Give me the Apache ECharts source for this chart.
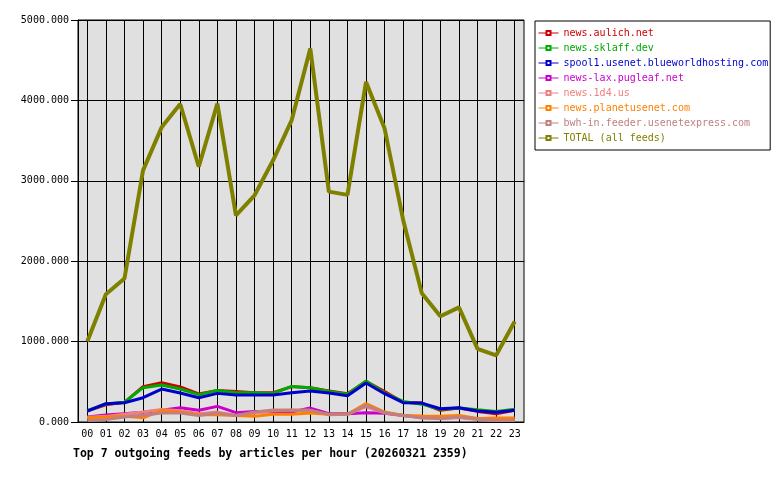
<!DOCTYPE html>
<html>
<head>
<meta charset="utf-8">
<script src="https://cdn.jsdelivr.net/npm/echarts@6/dist/echarts.min.js"></script>
<style>
  html, body { margin: 0; padding: 0; background: #fff; }
  #chart { width: 780px; height: 480px; }
</style>
</head>
<body>
<div id="chart"></div>
<script>
const hours = ['00','01','02','03','04','05','06','07','08','09','10','11',
               '12','13','14','15','16','17','18','19','20','21','22','23'];

const feedNames = ['news.aulich.net', 'news.sklaff.dev', 'spool1.usenet.blueworldhosting.com',
  'news-lax.pugleaf.net', 'news.1d4.us', 'news.planetusenet.com',
  'bwh-in.feeder.usenetexpress.com', 'TOTAL (all feeds)'];
const feedColors = ['#cc0000', '#00aa00', '#0000cc', '#cc00cc', '#f08080', '#ff8000', '#c08080', '#808000'];

const aulich = [140, 215, 245, 440, 490, 435, 350, 393, 380, 365, 365, 440, 425, 385, 352, 505, 380, 245, 235, 145, 175, 132, 103, 145];
const sklaff = [140, 225, 245, 427, 460, 410, 340, 393, 365, 365, 355, 443, 427, 380, 345, 509, 360, 256, 222, 158, 175, 153, 132, 160];
const spool1 = [136, 228, 240, 302, 410, 360, 302, 356, 335, 335, 335, 365, 385, 360, 327, 485, 352, 240, 235, 165, 178, 136, 120, 145];
const pugleaf = [61, 86, 103, 120, 145, 178, 145, 194, 116, 132, 124, 125, 173, 103, 103, 116, 110, 80, 60, 50, 60, 40, 25, 25];
const d4 = [60, 70, 95, 125, 155, 140, 103, 123, 82, 110, 140, 150, 145, 90, 95, 190, 115, 80, 50, 40, 55, 30, 20, 20];
const planet = [53, 61, 70, 53, 145, 124, 90, 90, 80, 70, 95, 95, 111, 95, 95, 228, 124, 82, 75, 70, 82, 45, 50, 50];
const bwh = [20, 30, 61, 85, 111, 111, 82, 111, 82, 124, 149, 145, 145, 95, 95, 207, 116, 82, 53, 45, 61, 36, 20, 20];
const total = [1000, 1590, 1785, 3130, 3665, 3955, 3175, 3960, 2570, 2820, 3255, 3755, 4645, 2865, 2825, 4230, 3650, 2510, 1600, 1315, 1425, 910, 830, 1250];

const feedData = [aulich, sklaff, spool1, pugleaf, d4, planet, bwh, total];

const mono = 'DejaVu Sans Mono';
const chart = echarts.init(document.getElementById('chart'));

chart.setOption({
  animation: false,
  backgroundColor: '#fff',
  title: {
    text: 'Top 7 outgoing feeds by articles per hour (20260321 2359)',
    left: 68,
    top: 443,
    textStyle: { fontFamily: mono, fontSize: 11.5, fontWeight: 'bold', color: '#000' }
  },
  legend: {
    orient: 'vertical',
    left: 535,
    top: 21,
    padding: [7, 2, 7, 3],
    itemWidth: 20,
    itemHeight: 5,
    itemGap: 5,
    backgroundColor: '#fff',
    borderColor: '#000',
    borderWidth: 1,
    borderRadius: 0,
    lineStyle: { width: 1 },
    textStyle: { fontFamily: mono, fontSize: 10 },
    data: feedNames.map((n, i) => ({ name: n, textStyle: { color: feedColors[i] } }))
  },
  grid: {
    left: 78, top: 20, width: 446, height: 402,
    show: true,
    backgroundColor: '#e0e0e0',
    borderColor: '#000',
    borderWidth: 1
  },
  xAxis: {
    type: 'category',
    data: hours,
    boundaryGap: true,
    axisLine: { lineStyle: { color: '#000', width: 1 } },
    axisTick: { alignWithLabel: true, interval: 0, length: 4, lineStyle: { color: '#000' } },
    axisLabel: { interval: 0, margin: 7, color: '#000', fontFamily: mono, fontSize: 10 },
    splitLine: { show: true, alignWithLabel: true, interval: 0, lineStyle: { color: '#000', width: 1 } }
  },
  yAxis: {
    type: 'value',
    min: 0,
    max: 5000,
    interval: 1000,
    axisLine: { show: true, lineStyle: { color: '#000', width: 1 } },
    axisTick: { show: true, length: 7, lineStyle: { color: '#000' } },
    axisLabel: { margin: 9, color: '#000', fontFamily: mono, fontSize: 10,
      formatter: v => v.toFixed(3) },
    splitLine: { show: true, lineStyle: { color: '#000', width: 1 } }
  },
  series: feedNames.map((n, i) => ({
    name: n,
    type: 'line',
    data: feedData[i],
    symbol: 'emptyRect',
    symbolSize: 4,
    showSymbol: false,
    color: feedColors[i],
    lineStyle: { width: i === 7 ? 4 : 3, color: feedColors[i] },
    emphasis: { disabled: true }
  }))
});
</script>
</body>
</html>
